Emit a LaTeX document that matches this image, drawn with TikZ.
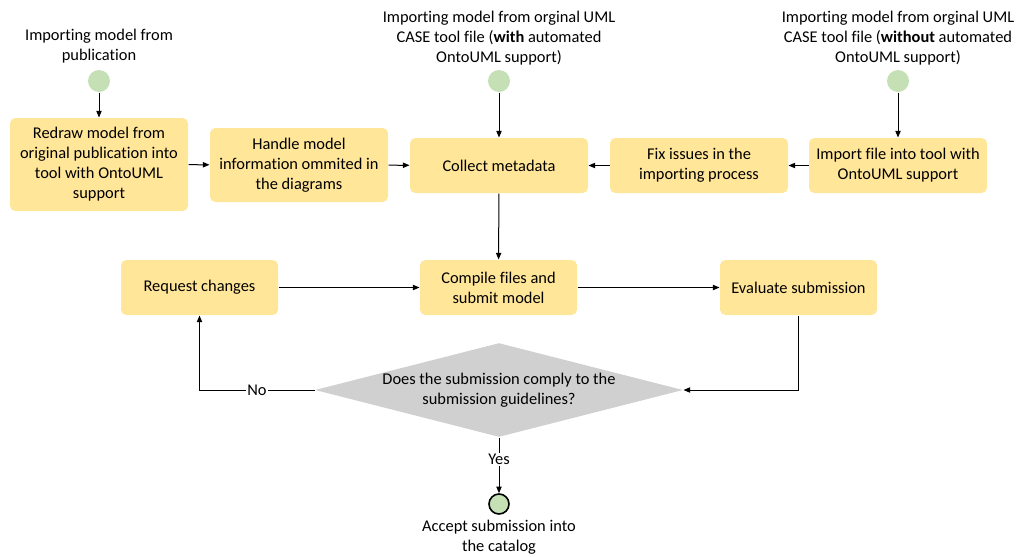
\documentclass[tikz,border=0pt]{standalone}
\usepackage{fontspec}
\setmainfont{Carlito}[Ligatures=NoCommon]
\usetikzlibrary{shapes.geometric,arrows.meta}
\definecolor{boxyellow}{HTML}{FFE699}
\definecolor{startgreen}{HTML}{C5E0B4}
\definecolor{checkgray}{HTML}{D0D0D0}
\tikzset{
  task/.style={fill=boxyellow,rounded corners=4pt,align=center,inner sep=2pt,
    minimum width=133.5pt,minimum height=41.25pt},
  shorttask/.style={task,minimum width=117.75pt},
  startdot/.style={circle,fill=startgreen,minimum size=16.5pt,inner sep=0pt},
  enddot/.style={circle,fill=startgreen,draw=black,line width=1.2pt,minimum size=15pt,inner sep=0pt},
  caption/.style={align=center,inner sep=0pt},
}
\begin{document}
\begin{tikzpicture}[x=0.75pt,y=-0.75pt,line width=0.75pt,>={Triangle[length=5pt,width=4pt]},
  font=\fontsize{12.3}{15}\selectfont]
		\useasboundingbox (0,0) rectangle (1018,557);
		% sources
		\node[caption] (lblpub) at (99,46) {Importing model from\\publication};
		\node[caption] (lblwith) at (499,38) {Importing model from orginal UML\\CASE tool file (\textbf{with} automated\\OntoUML support)};
		\node[caption] (lblwithout) at (898,38) {Importing model from orginal UML\\CASE tool file (\textbf{without} automated\\OntoUML support)};
		\node[startdot] (startpub) at (99,81) {};
		\node[startdot] (startwith) at (499,81) {};
		\node[startdot] (startwithout) at (898,81) {};
		% first row
		\node[task,minimum height=69.75pt] (redraw) at (99,164.5) {Redraw model from\\original publication into\\tool with OntoUML\\support};
		\node[task,minimum height=55.5pt] (handle) at (299,165) {Handle model\\information ommited in\\the diagrams};
		\node[task] (collect) at (499,165.5) {Collect metadata};
		\node[task] (fix) at (699,165.5) {Fix issues in the\\importing process};
		\node[task] (import) at (898,165.5) {Import file into tool with\\OntoUML support};
		% second row
		\node[shorttask] (request) at (199.5,287.5) {Request changes};
		\node[shorttask] (compile) at (498.5,287.5) {Compile files and\\submit model};
		\node[shorttask] (evaluate) at (798.5,287.5) {Evaluate submission};
		\node[diamond,fill=checkgray,align=center,inner sep=-10pt,aspect=3.9,
		  minimum width=276pt,minimum height=70.5pt] (check) at (499,390) {Does the submission comply to the\\submission guidelines?};
		\node[enddot] (finish) at (499,504) {};
		\node[caption] (lblfinish) at (499,537) {Accept submission into\\the catalog};
		% flow
		\draw[->] (startpub) -- (redraw);
		\draw[->] (startwith) -- (collect);
		\draw[->] (startwithout) -- (import);
		\draw[->] (redraw) -- (handle);
		\draw[->] (handle) -- (collect);
		\draw[->] (import) -- (fix);
		\draw[->] (fix) -- (collect);
		\draw[->] (collect) -- (compile);
		\draw[->] (request) -- (compile);
		\draw[->] (compile) -- (evaluate);
		\draw[->] (evaluate.south) |- (check.east);
		\draw[->] (check.west) -| node[pos=0.25,fill=white,inner sep=1pt] {No} (request.south);
		\draw[->] (check.south) -- node[pos=0.4,fill=white,inner sep=1pt] {Yes} (finish);
		\end{tikzpicture}
\end{document}
